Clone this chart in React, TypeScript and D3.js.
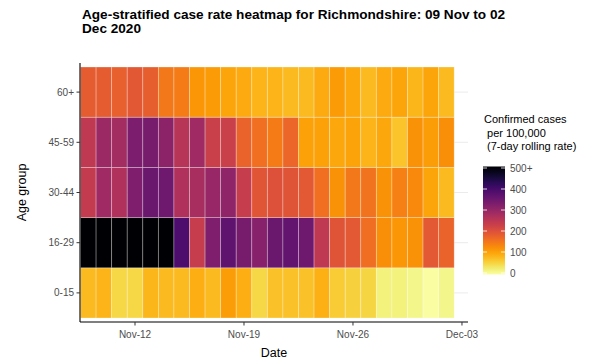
import { useEffect, useRef } from "react";
import * as d3 from "d3";

const ageGroups = ["0-15", "16-29", "30-44", "45-59", "60+"];

// 7-day rolling rate per 100,000, one value per day from 09 Nov to 02 Dec 2020
const rate0to15 = [80, 85, 50, 50, 83, 80, 80, 90, 80, 108, 90, 50, 72, 72, 72, 88, 62, 55, 52, 20, 21, 14, 3, 15];
const rate16to29 = [620, 580, 600, 560, 540, 520, 385, 235, 325, 365, 335, 315, 350, 360, 345, 245, 197, 188, 162, 125, 115, 120, 188, 175];
const rate30to44 = [240, 285, 265, 325, 350, 345, 265, 275, 295, 305, 235, 195, 200, 197, 188, 160, 120, 150, 155, 120, 140, 130, 100, 80];
const rate45to59 = [245, 290, 280, 330, 335, 310, 255, 285, 230, 230, 175, 160, 145, 170, 105, 105, 97, 103, 85, 97, 70, 120, 108, 125];
const rate60plus = [185, 185, 178, 190, 180, 150, 145, 115, 110, 100, 95, 85, 85, 80, 80, 95, 110, 97, 80, 95, 100, 83, 100, 80];

const seriesByGroup: Record<string, number[]> = {
  "0-15": rate0to15,
  "16-29": rate16to29,
  "30-44": rate30to44,
  "45-59": rate45to59,
  "60+": rate60plus,
};

const startDay = Date.UTC(2020, 10, 9);
const endDay = Date.UTC(2020, 11, 2);
const tickDates = [Date.UTC(2020, 10, 12), Date.UTC(2020, 10, 19), Date.UTC(2020, 10, 26), Date.UTC(2020, 11, 3)];
const legendTicks = [0, 100, 200, 300, 400, 500];
const legendTitle = ["Confirmed cases", " per 100,000", " (7-day rolling rate)"];

export default function App() {
  const svgRef = useRef<SVGSVGElement>(null);

  useEffect(() => {
    if (!svgRef.current) return;
    const svg = d3.select(svgRef.current);
    svg.selectAll("*").remove();
    const font = "Liberation Sans, Arial, sans-serif";

    const panel = { left: 80, right: 468, top: 63, bottom: 322 };
    const days = d3.utcDay.range(new Date(startDay), d3.utcDay.offset(new Date(endDay), 1));

    const x = d3
      .scaleUtc()
      .domain([new Date(startDay), new Date(endDay)])
      .range([88.3, 446.4]);
    const cellW = (446.4 - 88.3) / (days.length - 1);

    const y = d3
      .scaleBand<string>()
      .domain([...ageGroups].reverse())
      .range([67, 318])
      .padding(0);

    const color = (v: number) => d3.interpolateInferno(1 - Math.min(v, 500) / 500);

    // grid
    svg
      .append("g")
      .selectAll("line")
      .data(ageGroups)
      .enter()
      .append("line")
      .attr("x1", panel.left)
      .attr("x2", panel.right)
      .attr("y1", (d) => y(d)! + y.bandwidth() / 2)
      .attr("y2", (d) => y(d)! + y.bandwidth() / 2)
      .attr("stroke", "#ebebeb")
      .attr("stroke-width", 1);

    const cells = ageGroups.flatMap((g) =>
      days.map((d, i) => ({ group: g, date: d, value: seriesByGroup[g][i] }))
    );

    svg
      .append("g")
      .selectAll("rect")
      .data(cells)
      .enter()
      .append("rect")
      .attr("x", (d) => x(d.date) - cellW / 2)
      .attr("y", (d) => y(d.group)!)
      .attr("width", cellW)
      .attr("height", y.bandwidth())
      .attr("fill", (d) => color(d.value))
      .attr("stroke", "rgba(255,255,255,0.35)")
      .attr("stroke-width", 0.8);

    // axes
    const axes = svg.append("g").attr("stroke", "#000").attr("stroke-width", 1.1);
    axes.append("line").attr("x1", panel.left).attr("x2", panel.left).attr("y1", panel.top).attr("y2", panel.bottom);
    axes.append("line").attr("x1", panel.left).attr("x2", panel.right).attr("y1", panel.bottom).attr("y2", panel.bottom);

    const yTicks = svg.append("g");
    ageGroups.forEach((g) => {
      const cy = y(g)! + y.bandwidth() / 2;
      yTicks.append("line").attr("x1", 76.5).attr("x2", panel.left).attr("y1", cy).attr("y2", cy).attr("stroke", "#333");
      yTicks
        .append("text")
        .attr("x", 74)
        .attr("y", cy)
        .attr("dy", "0.35em")
        .attr("text-anchor", "end")
        .attr("font-family", font)
        .attr("font-size", 10)
        .attr("fill", "#4d4d4d")
        .text(g);
    });

    const xTicks = svg.append("g");
    const fmt = d3.utcFormat("%b-%d");
    tickDates.forEach((t) => {
      const px = x(new Date(t));
      xTicks.append("line").attr("x1", px).attr("x2", px).attr("y1", panel.bottom).attr("y2", panel.bottom + 3.5).attr("stroke", "#333");
      xTicks
        .append("text")
        .attr("x", px)
        .attr("y", 338)
        .attr("text-anchor", "middle")
        .attr("font-family", font)
        .attr("font-size", 10)
        .attr("fill", "#4d4d4d")
        .text(fmt(new Date(t)));
    });

    svg
      .append("text")
      .attr("x", (panel.left + panel.right) / 2)
      .attr("y", 357)
      .attr("text-anchor", "middle")
      .attr("font-family", font)
      .attr("font-size", 12.5)
      .text("Date");

    svg
      .append("text")
      .attr("transform", `translate(26,${(panel.top + panel.bottom) / 2}) rotate(-90)`)
      .attr("text-anchor", "middle")
      .attr("font-family", font)
      .attr("font-size", 12.5)
      .text("Age group");

    // title
    const title = svg
      .append("text")
      .attr("font-family", font)
      .attr("font-size", 13.6)
      .attr("font-weight", "bold");
    title.append("tspan").attr("x", 82).attr("y", 18.5).text("Age-stratified case rate heatmap for Richmondshire: 09 Nov to 02");
    title.append("tspan").attr("x", 82).attr("y", 32.5).text("Dec 2020");

    // legend
    const legend = svg.append("g");
    legendTitle.forEach((line, i) => {
      legend
        .append("text")
        .attr("x", 484)
        .attr("y", 123 + i * 13.5)
        .attr("font-family", font)
        .attr("font-size", 11)
        .attr("xml:space", "preserve")
        .style("white-space", "pre")
        .text(line);
    });

    const ly = d3.scaleLinear().domain([0, 500]).range([273, 168]);
    const defs = svg.append("defs");
    const grad = defs
      .append("linearGradient")
      .attr("id", "legendGrad")
      .attr("x1", 0)
      .attr("y1", 1)
      .attr("x2", 0)
      .attr("y2", 0);
    d3.range(0, 1.0001, 0.05).forEach((t) => {
      grad.append("stop").attr("offset", t).attr("stop-color", color(t * 500));
    });
    const barX = 483;
    const barW = 22;
    legend
      .append("rect")
      .attr("x", barX)
      .attr("y", ly(500) - 1.5)
      .attr("width", barW)
      .attr("height", ly(0) - ly(500) + 3)
      .attr("fill", "url(#legendGrad)");
    legendTicks.forEach((v) => {
      const py = ly(v);
      legend.append("line").attr("x1", barX).attr("x2", barX + 4).attr("y1", py).attr("y2", py).attr("stroke", "#fff").attr("stroke-opacity", 0.8);
      legend.append("line").attr("x1", barX + barW - 4).attr("x2", barX + barW).attr("y1", py).attr("y2", py).attr("stroke", "#fff").attr("stroke-opacity", 0.8);
      legend
        .append("text")
        .attr("x", 510)
        .attr("y", py)
        .attr("dy", "0.35em")
        .attr("font-family", font)
        .attr("font-size", 10)
        .attr("fill", "#4d4d4d")
        .text(v === 500 ? "500+" : String(v));
    });
  }, []);

  return (
    <svg
      ref={svgRef}
      width={589}
      height={362}
      style={{ position: "absolute", left: 0, top: 0, background: "#fff" }}
    />
  );
}
